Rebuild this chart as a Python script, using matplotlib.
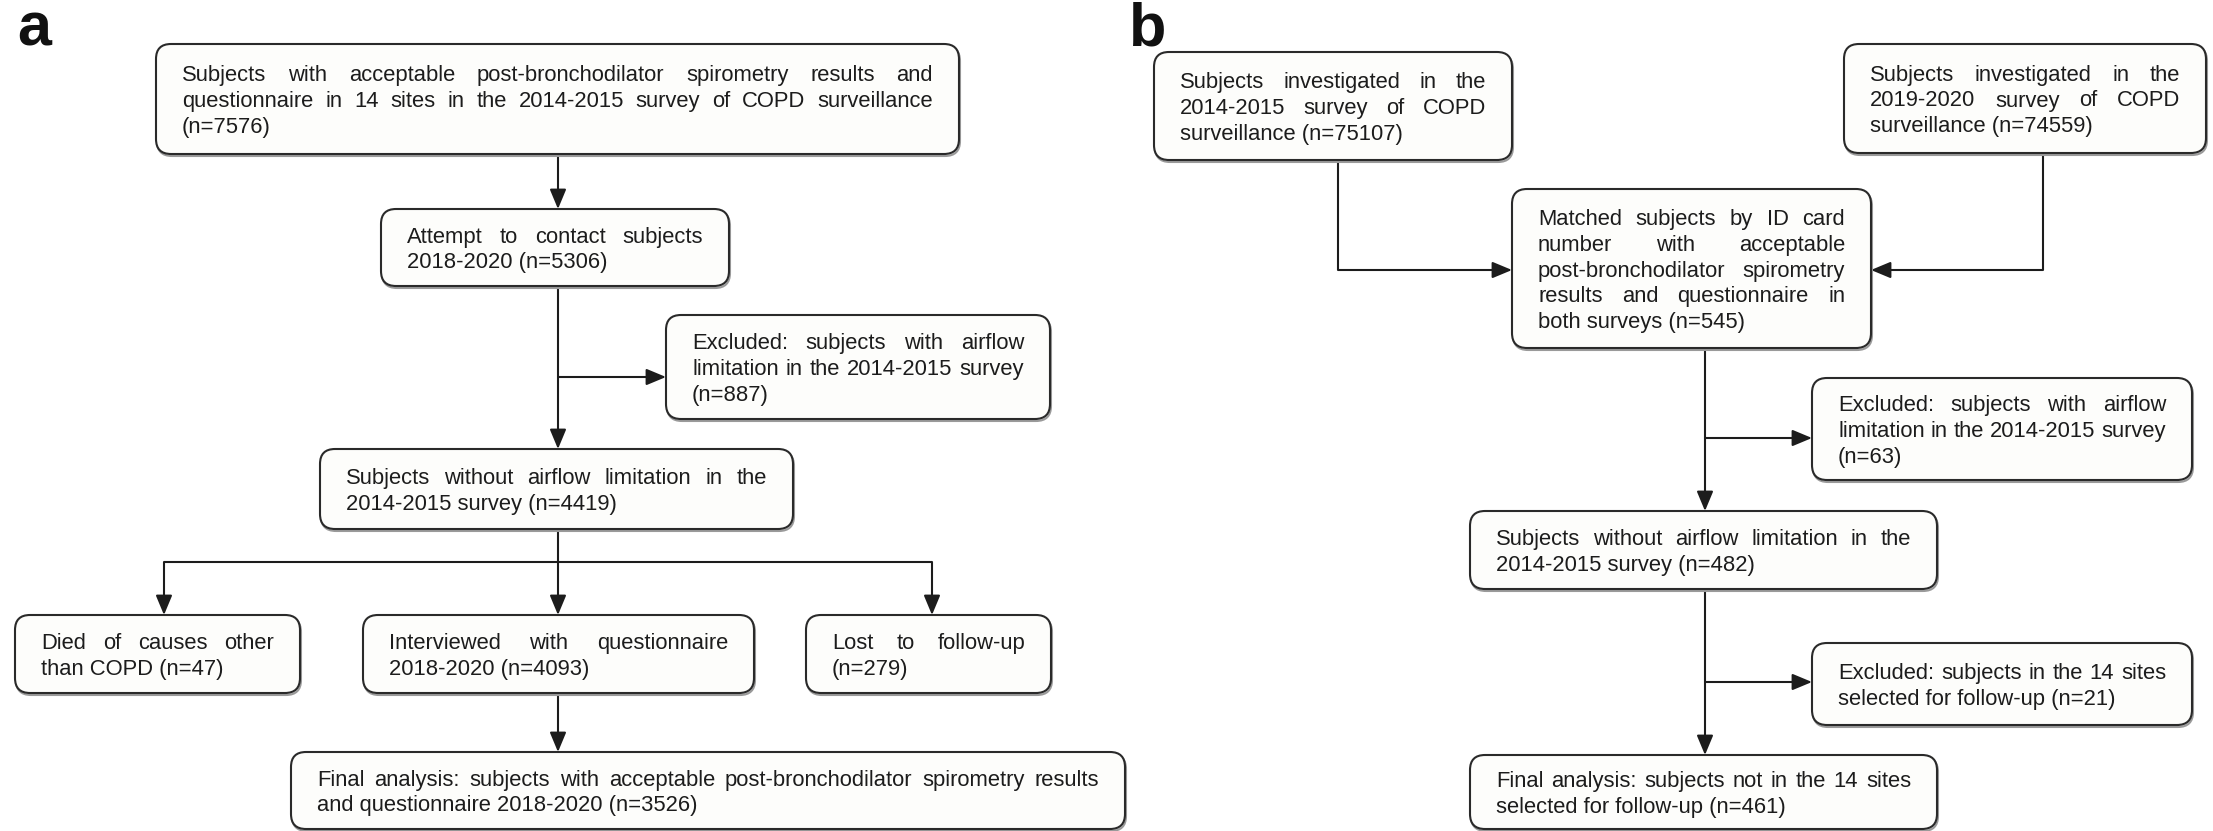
import matplotlib
matplotlib.use("Agg")
import matplotlib.pyplot as plt
from matplotlib.patches import FancyBboxPatch, FancyArrowPatch

# ---------------------------------------------------------------
# counts shown in the boxes
n_a = [7576, 5306, 887, 4419, 47, 4093, 279, 3526]
n_b = [75107, 74559, 545, 63, 482, 21, 461]

# ---------------------------------------------------------------
# box texts, panel a (line breaks as in the figure)
a_start = ["Subjects with acceptable post-bronchodilator spirometry results and",
           "questionnaire in 14 sites in the 2014-2015 survey of COPD surveillance",
           f"(n={n_a[0]})"]
a_contact = ["Attempt to contact subjects", f"2018-2020 (n={n_a[1]})"]
a_excl = ["Excluded: subjects with airflow", "limitation in the 2014-2015 survey",
          f"(n={n_a[2]})"]
a_noafl = ["Subjects without airflow limitation in the", f"2014-2015 survey (n={n_a[3]})"]
a_died = ["Died of causes other", f"than COPD (n={n_a[4]})"]
a_interv = ["Interviewed with questionnaire", f"2018-2020 (n={n_a[5]})"]
a_lost = ["Lost to follow-up", f"(n={n_a[6]})"]
a_final = ["Final analysis: subjects with acceptable post-bronchodilator spirometry results",
           f"and questionnaire 2018-2020 (n={n_a[7]})"]

# box texts, panel b
b_s1 = ["Subjects investigated in the", "2014-2015 survey of COPD", f"surveillance (n={n_b[0]})"]
b_s2 = ["Subjects investigated in the", "2019-2020 survey of COPD", f"surveillance (n={n_b[1]})"]
b_match = ["Matched subjects by ID card", "number with acceptable",
           "post-bronchodilator spirometry", "results and questionnaire in",
           f"both surveys (n={n_b[2]})"]
b_excl1 = ["Excluded: subjects with airflow", "limitation in the 2014-2015 survey",
           f"(n={n_b[3]})"]
b_noafl = ["Subjects without airflow limitation in the", f"2014-2015 survey (n={n_b[4]})"]
b_excl2 = ["Excluded: subjects in the 14 sites", f"selected for follow-up (n={n_b[5]})"]
b_final = ["Final analysis: subjects not in the 14 sites", f"selected for follow-up (n={n_b[6]})"]

# ---------------------------------------------------------------
# layout (pixels, y downwards): x0, y0, x1, y1
boxes = [
    (a_start, (156, 44, 959, 154)),
    (a_contact, (381, 209, 729, 286)),
    (a_excl, (666, 315, 1050, 419)),
    (a_noafl, (320, 449, 793, 529)),
    (a_died, (15, 615, 300, 693)),
    (a_interv, (363, 615, 754, 693)),
    (a_lost, (806, 615, 1051, 693)),
    (a_final, (291, 752, 1125, 829)),
    (b_s1, (1154, 52, 1512, 160)),
    (b_s2, (1844, 44, 2206, 153)),
    (b_match, (1512, 189, 1871, 348)),
    (b_excl1, (1812, 378, 2192, 480)),
    (b_noafl, (1470, 511, 1937, 589)),
    (b_excl2, (1812, 643, 2192, 725)),
    (b_final, (1470, 755, 1937, 829)),
]

W, H = 2213, 831
FONT = "Liberation Sans"
FS = 15.8
GAP = 25.7
CAP = 16
PAD = 26
INK = "#1c1c1c"

fig = plt.figure(figsize=(W / 100, H / 100), dpi=100)
ax = fig.add_axes([0, 0, 1, 1])
ax.set_xlim(0, W)
ax.set_ylim(H, 0)
ax.axis("off")
renderer = fig.canvas.get_renderer()


def text_width(s):
    t = ax.text(0, 0, s, fontsize=FS, family=FONT)
    w = t.get_window_extent(renderer).width
    t.remove()
    return w


def draw_box(lines, rect):
    x0, y0, x1, y1 = rect
    ax.add_patch(FancyBboxPatch((x0 + 1, y0 + 2), x1 - x0, y1 - y0,
                                boxstyle="round,pad=0,rounding_size=15",
                                fc="none", ec="#9a9a9a", lw=1.5, zorder=2))
    ax.add_patch(FancyBboxPatch((x0, y0), x1 - x0, y1 - y0,
                                boxstyle="round,pad=0,rounding_size=15",
                                fc="#fdfdfb", ec="#2a2a2a", lw=1.5, zorder=3))
    left, right = x0 + PAD, x1 - PAD
    block = CAP + GAP * (len(lines) - 1)
    y = (y0 + y1) / 2 - block / 2 + CAP
    for i, line in enumerate(lines):
        words = line.split()
        if i == len(lines) - 1 or len(words) == 1:
            ax.text(left, y, line, fontsize=FS, family=FONT, color=INK,
                    va="baseline", ha="left", zorder=4)
        else:
            widths = [text_width(w) for w in words]
            gap = (right - left - sum(widths)) / (len(words) - 1)
            x = left
            for w, wd in zip(words, widths):
                ax.text(x, y, w, fontsize=FS, family=FONT, color=INK,
                        va="baseline", ha="left", zorder=4)
                x += wd + gap
        y += GAP


def line(pts):
    xs, ys = zip(*pts)
    ax.plot(xs, ys, color=INK, lw=1.5, zorder=1, solid_capstyle="butt")


def arrow(pts):
    if len(pts) > 2:
        line(pts[:-1])
    ax.add_patch(FancyArrowPatch(pts[-2], pts[-1],
                                 arrowstyle="-|>,head_length=12,head_width=5",
                                 mutation_scale=1, shrinkA=0, shrinkB=0,
                                 color=INK, lw=1.5, zorder=1))


for lines, rect in boxes:
    draw_box(lines, rect)

# panel a connectors
xa = 558
arrow([(xa, 154), (xa, 209)])
arrow([(xa, 286), (xa, 449)])
arrow([(xa, 377), (666, 377)])
line([(xa, 529), (xa, 562)])
line([(164, 562), (932, 562)])
arrow([(164, 562), (164, 615)])
arrow([(xa, 562), (xa, 615)])
arrow([(932, 562), (932, 615)])
arrow([(xa, 693), (xa, 752)])

# panel b connectors
xb = 1705
arrow([(1338, 160), (1338, 270), (1512, 270)])
arrow([(2043, 153), (2043, 270), (1871, 270)])
arrow([(xb, 348), (xb, 511)])
arrow([(xb, 438), (1812, 438)])
arrow([(xb, 589), (xb, 755)])
arrow([(xb, 682), (1812, 682)])

# panel letters
ax.text(17, 45, "a", fontsize=44, fontweight="bold", family=FONT, va="baseline", color="#111111")
ax.text(1129, 45, "b", fontsize=44, fontweight="bold", family=FONT, va="baseline", color="#111111")

fig.savefig("out.png", dpi=100, facecolor="white")
